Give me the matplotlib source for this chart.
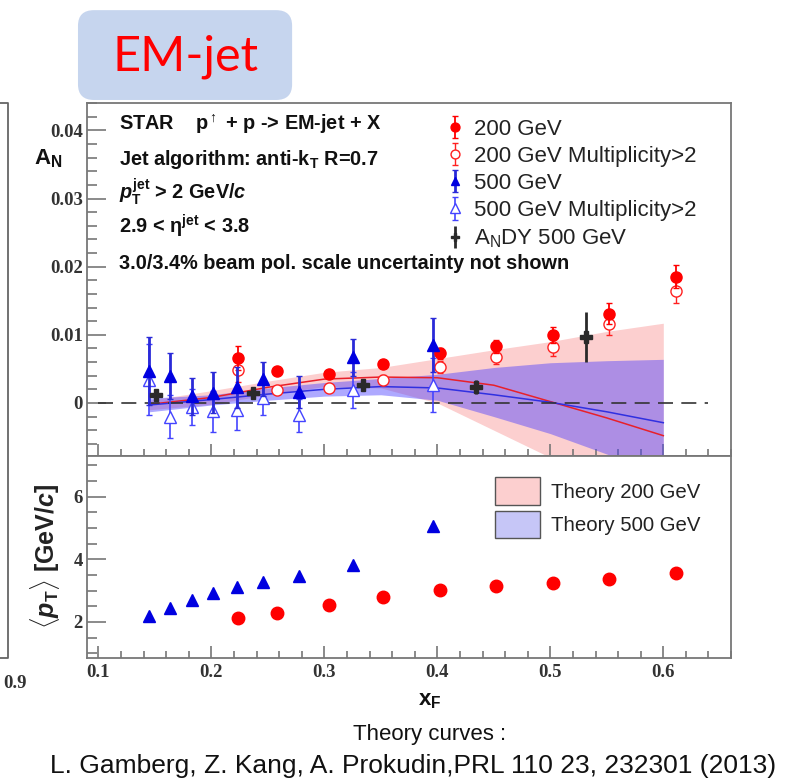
import numpy as np
import matplotlib
matplotlib.use('Agg')
import matplotlib.pyplot as plt
from matplotlib.patches import FancyBboxPatch, Patch
from matplotlib.ticker import MultipleLocator

plt.rcParams['font.family'] = ['Liberation Sans', 'DejaVu Sans']
plt.rcParams['mathtext.fontset'] = 'custom'
plt.rcParams['mathtext.rm'] = 'Liberation Sans:bold'
plt.rcParams['mathtext.bf'] = 'Liberation Sans:bold'
plt.rcParams['mathtext.it'] = 'Liberation Sans:italic:bold'

# A_N, 200 GeV
x200 = [0.224, 0.258, 0.304, 0.352, 0.402, 0.452, 0.502, 0.552, 0.611]
an200 = [0.0066, 0.0047, 0.0042, 0.0057, 0.0073, 0.0083, 0.0100, 0.0131, 0.0185]
err200 = [0.0017, 0.0005, 0.0005, 0.0006, 0.0008, 0.0009, 0.0012, 0.0015, 0.0017]
an200m = [0.0048, 0.0019, 0.0022, 0.0034, 0.0053, 0.0067, 0.0082, 0.0116, 0.0164]
err200m = [0.0017, 0.0006, 0.0006, 0.0007, 0.0009, 0.0010, 0.0013, 0.0016, 0.0018]
pt200 = [2.13, 2.29, 2.54, 2.80, 3.02, 3.15, 3.25, 3.37, 3.57]

# A_N, 500 GeV
x500 = [0.145, 0.163, 0.183, 0.2015, 0.2227, 0.2456, 0.278, 0.325, 0.3966]
an500 = [0.0047, 0.0040, 0.0010, 0.0015, 0.0023, 0.0035, 0.0016, 0.0067, 0.0085]
err500 = [0.0050, 0.0034, 0.0027, 0.0030, 0.0030, 0.0025, 0.0024, 0.0027, 0.0040]
an500m = [0.0034, -0.0020, -0.0006, -0.0012, -0.0010, 0.0007, -0.0018, 0.0019, 0.0026]
err500m = [0.0052, 0.0031, 0.0027, 0.0030, 0.0030, 0.0025, 0.0024, 0.0027, 0.0040]
pt500 = [2.19, 2.45, 2.70, 2.93, 3.12, 3.28, 3.47, 3.82, 5.07]

# ANDY 500 GeV
xandy = [0.151, 0.237, 0.334, 0.434, 0.532]
anandy = [0.0012, 0.0015, 0.0026, 0.0023, 0.0097]
errandy = [0.0005, 0.0005, 0.0006, 0.0010, 0.0037]

# theory curves
xth = [0.145, 0.2, 0.25, 0.3, 0.35, 0.4, 0.45, 0.5, 0.55, 0.6]
th200 = [-0.0002, 0.0008, 0.0023, 0.0035, 0.0038, 0.0037, 0.0026, 0.0002, -0.0022, -0.0048]
th200_hi = [0.0004, 0.0018, 0.0032, 0.0045, 0.0052, 0.0065, 0.0078, 0.0090, 0.0105, 0.0117]
th200_lo = [-0.0010, -0.0002, 0.0012, 0.0024, 0.0022, 0.0000, -0.0040, -0.0080, -0.0115, -0.0150]
th500 = [-0.0003, 0.0005, 0.0013, 0.0020, 0.0024, 0.0022, 0.0012, 0.0001, -0.0013, -0.0029]
th500_hi = [0.0007, 0.0012, 0.0022, 0.0030, 0.0036, 0.0042, 0.0052, 0.0059, 0.0062, 0.0064]
th500_lo = [-0.0013, -0.0003, 0.0004, 0.0010, 0.0012, 0.0004, -0.0020, -0.0045, -0.0075, -0.0105]

fig = plt.figure(figsize=(7.99, 7.81), dpi=100)
ax1 = fig.add_axes([0.109, 0.416, 0.806, 0.452])
ax2 = fig.add_axes([0.109, 0.1575, 0.806, 0.2586], sharex=ax1)

pink = '#fccfcf'
lav = (0.3, 0.25, 1.0, 0.45)

ax1.fill_between(xth, th200_lo, th200_hi, color=pink, lw=0, zorder=1)
ax1.fill_between(xth, th500_lo, th500_hi, color=lav, lw=0, zorder=2)
ax1.plot(xth, th200, color='#e8202a', lw=1.1, zorder=3)
ax1.plot(xth, th500, color='#3030e0', lw=1.1, zorder=3)
ax1.plot([0.1, 0.64], [0, 0], color='#333333', lw=1.2, dashes=(9, 5), zorder=3)

h1 = ax1.errorbar(x200, an200, yerr=err200, fmt='o', color='#ff0000', ms=8,
                  elinewidth=1.3, capsize=2, zorder=6, label='200 GeV')
h2 = ax1.errorbar(x200, an200m, yerr=err200m, fmt='o', color='#ff2020', mfc='white',
                  ms=8, mew=1.0, elinewidth=1.0, capsize=2, zorder=5,
                  label='200 GeV Multiplicity>2')
h3 = ax1.errorbar(x500, an500, yerr=err500, fmt='^', color='#0000e0', ecolor='#2a2ad8',
                  ms=8, elinewidth=2.0, capsize=2, zorder=6, label='500 GeV')
h4 = ax1.errorbar(x500, an500m, yerr=err500m, fmt='^', color='#4444ff', mfc='white',
                  ms=9, mew=1.0, elinewidth=1.2, capsize=2, zorder=5,
                  label='500 GeV Multiplicity>2')
h5 = ax1.errorbar(xandy, anandy, yerr=errandy, fmt='P', color='#2a2a2a', ms=8,
                  elinewidth=2.0, capsize=0, zorder=6, label=r'$\mathregular{A_N}$DY 500 GeV')

leg = ax1.legend(handles=[h1, h2, h3, h4, h5], loc='upper left',
                 bbox_to_anchor=(0.527, 1.013), frameon=False, fontsize=16,
                 handlelength=0.8, handletextpad=0.45, labelspacing=0.28,
                 markerscale=0.8)
for t in leg.get_texts():
    t.set_color('#222222')

ax1.set_ylim(-0.0078, 0.044)
ax1.yaxis.set_minor_locator(MultipleLocator(0.002))
ax1.set_yticks([0, 0.01, 0.02, 0.03, 0.04])
ax1.set_yticklabels(['0', '0.01', '0.02', '0.03', '0.04'])

tb = dict(transform=ax1.transAxes, fontsize=14.3, fontweight='bold', color='#111111',
          va='baseline')
ax1.text(0.05, 0.925, r'STAR    $\mathregular{p^{\uparrow}}$ + p -> EM-jet + X', **tb)
ax1.text(0.05, 0.825, r'Jet algorithm: anti-$\mathregular{k_T}$ R=0.7', **tb)
ax1.text(0.05, 0.728, r'$p_\mathregular{T}^\mathregular{jet}$ > 2 GeV/$c$', **tb)
ax1.text(0.05, 0.630, r'2.9 < $\mathregular{\eta^{jet}}$ < 3.8', **tb)
ax1.text(0.05, 0.530, r'3.0/3.4% beam pol. scale uncertainty not shown', **tb)

# lower panel
ax2.plot(x500, pt500, '^', color='#0000e0', ms=8)
ax2.plot(x200, pt200, 'o', color='#ff0000', ms=9)
ax2.set_ylim(0.85, 7.3)
ax2.yaxis.set_minor_locator(MultipleLocator(0.5))
ax2.set_yticks([2, 4, 6])
th_handles = [Patch(facecolor=pink, edgecolor='#555555', lw=1.0, label='Theory 200 GeV'),
              Patch(facecolor='#c6c6f7', edgecolor='#555555', lw=1.0, label='Theory 500 GeV')]
leg2 = ax2.legend(handles=th_handles, loc='upper left', bbox_to_anchor=(0.605, 0.985),
                  frameon=False, fontsize=14.7, handlelength=2.2, handleheight=1.7,
                  handletextpad=0.55, labelspacing=0.28)
for t in leg2.get_texts():
    t.set_color('#222222')

ax1.set_xlim(0.09, 0.66)
ax1.xaxis.set_minor_locator(MultipleLocator(0.02))
ax2.set_xticks([0.1, 0.2, 0.3, 0.4, 0.5, 0.6])
ax2.set_xticklabels(['0.1', '0.2', '0.3', '0.4', '0.5', '0.6'])
plt.setp(ax1.get_xticklabels(), visible=False)

for ax in (ax1, ax2):
    for s in ax.spines.values():
        s.set_color('#777777')
        s.set_linewidth(1.3)
    ax.tick_params(which='both', direction='in', color='#777777', width=1.2,
                   top=False, right=False)
    ax.tick_params(axis='y', which='major', length=14, pad=3)
    ax.tick_params(axis='y', which='minor', length=7)
    ax.tick_params(axis='x', which='major', length=9, pad=4)
    ax.tick_params(axis='x', which='minor', length=5)
    for lab in ax.get_xticklabels() + ax.get_yticklabels():
        lab.set_family(['Liberation Serif'])
        lab.set_fontweight('bold')
        lab.set_fontsize(13.5)
        lab.set_color('#333333')

# axis titles
fig.text(0.043, 0.79, r'$\mathregular{A_N}$', fontsize=16, fontweight='bold', color='#111111')
fig.text(0.056, 0.287, r'$\langle p_\mathregular{T}\rangle$ [GeV/$c$]', fontsize=18,
         fontweight='bold', rotation=90, ha='center', va='center', color='#222222')
fig.text(0.538, 0.103, r'$\mathregular{x_F}$', fontsize=16, fontweight='bold',
         ha='center', va='center', color='#111111')

# captions
fig.text(0.538, 0.059, 'Theory curves :', fontsize=16, ha='center', va='center', color='#111111')
fig.text(0.517, 0.019, 'L. Gamberg, Z. Kang, A. Prokudin,PRL 110 23, 232301 (2013)',
         fontsize=19, ha='center', va='center', color='#111111')

# EM-jet tag
box = FancyBboxPatch((0.0976, 0.872), 0.268, 0.115, transform=fig.transFigure,
                     boxstyle='round,pad=0,rounding_size=0.02', fc='#c6d5ee',
                     ec='none', zorder=10)
fig.patches.append(box)
fig.text(0.232, 0.927, 'EM-jet', fontsize=35, color='#ff0000', ha='center',
         va='center', family=['Lato', 'DejaVu Sans'], zorder=11)

# neighbouring panel edge on the left
fig.add_artist(plt.Line2D([0.0, 0.010, 0.010, 0.0], [0.868, 0.868, 0.1575, 0.1575],
                          transform=fig.transFigure, color='#666666', lw=1.3))
fig.text(0.033, 0.125, '0.9', fontsize=13.5, fontweight='bold', ha='right', va='center',
         family=['Liberation Serif'], color='#333333')

fig.savefig('out.png', dpi=100)
